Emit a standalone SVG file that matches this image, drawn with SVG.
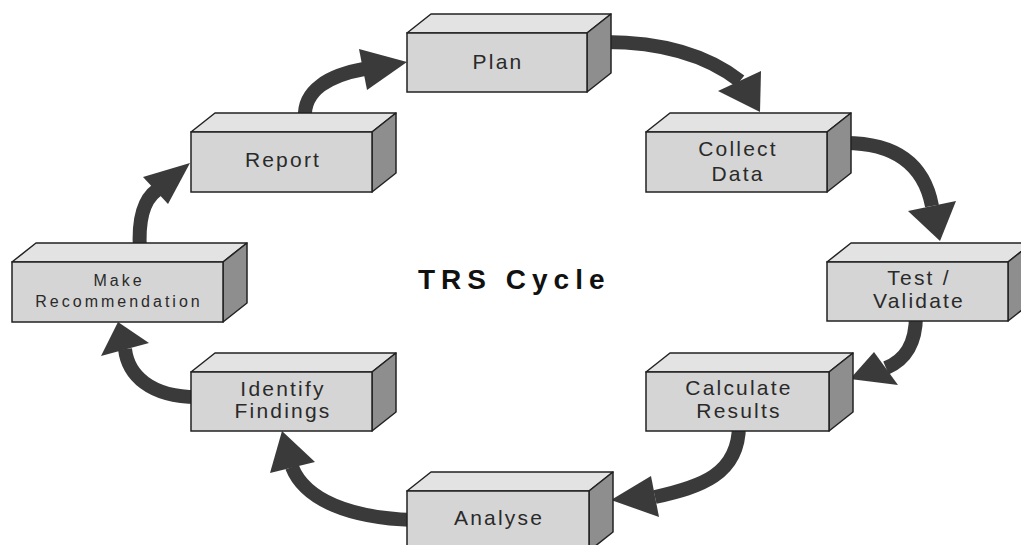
<svg xmlns="http://www.w3.org/2000/svg" width="1021" height="545" viewBox="0 0 1021 545">
<style>
.top{fill:#e3e3e3;stroke:#222;stroke-width:1.5;stroke-linejoin:round}
.side{fill:#8e8e8e;stroke:#222;stroke-width:1.5;stroke-linejoin:round}
.front{fill:#d5d5d5;stroke:#222;stroke-width:1.5}
.lbl{font-family:"Liberation Sans",Arial,sans-serif;font-size:21px;letter-spacing:2.2px;fill:#2a2a2a;text-anchor:middle}
.sm{font-size:16px;letter-spacing:3px}
.shaft{fill:none;stroke:#3a3a3a;stroke-width:14}
.head{fill:#3a3a3a}
.title{font-family:"Liberation Sans",Arial,sans-serif;font-size:28px;font-weight:bold;letter-spacing:6px;fill:#111}
</style>
<rect width="1021" height="545" fill="#fff"/>
<g id="connectors">
<path class="shaft" d="M605,42 Q690,42 740,81"/><polygon class="head" points="718,91 761,71 760,112"/>
<path class="shaft" d="M845,143 Q920,143 932,206"/><polygon class="head" points="908,211 956,201 940,241"/>
<path class="shaft" d="M916,315 C916,345 905,360 886,368"/><polygon class="head" points="874,352 898,385 850,379"/>
<path class="shaft" d="M739,425 C739,475 700,487 655,497"/><polygon class="head" points="651,476 659,517 611,500"/>
<path class="shaft" d="M413,520 C350,518 305,500 292,467"/><polygon class="head" points="270,473 315,462 282,431"/>
<path class="shaft" d="M197,397 C150,397 128,375 125,349"/><polygon class="head" points="101,356 149,343 118,322"/>
<path class="shaft" d="M140,250 C138,220 143,200 157,190"/><polygon class="head" points="143,177 168,204 190,163"/>
<path class="shaft" d="M305,118 C303,90 330,75 364,69"/><polygon class="head" points="359,49 367,90 407,62"/>
</g>
<g id="plan">
<polygon class="top" points="407,33 431,14 611,14 587,33"/>
<polygon class="side" points="587,33 611,14 611,73 587,92"/>
<rect class="front" x="407" y="33" width="180" height="59"/>
<text class="lbl" x="498" y="69">Plan</text>
</g>
<g id="collect">
<polygon class="top" points="646,132 670,113 851,113 827,132"/>
<polygon class="side" points="827,132 851,113 851,173 827,192"/>
<rect class="front" x="646" y="132" width="181" height="60"/>
<text class="lbl" x="738" y="156">Collect</text>
<text class="lbl" x="738" y="181">Data</text>
</g>
<g id="test">
<polygon class="top" points="827,262 851,243 1032,243 1008,262"/>
<polygon class="side" points="1008,262 1032,243 1032,302 1008,321"/>
<rect class="front" x="827" y="262" width="181" height="59"/>
<text class="lbl" x="919" y="285">Test /</text>
<text class="lbl" x="919" y="308">Validate</text>
</g>
<g id="calc">
<polygon class="top" points="646,372 670,353 853,353 829,372"/>
<polygon class="side" points="829,372 853,353 853,412 829,431"/>
<rect class="front" x="646" y="372" width="183" height="59"/>
<text class="lbl" x="739" y="395">Calculate</text>
<text class="lbl" x="739" y="418">Results</text>
</g>
<g id="analyse">
<polygon class="top" points="407,491 431,472 613,472 589,491"/>
<polygon class="side" points="589,491 613,472 613,532 589,551"/>
<rect class="front" x="407" y="491" width="182" height="60"/>
<text class="lbl" x="499" y="525">Analyse</text>
</g>
<g id="identify">
<polygon class="top" points="191,372 215,353 396,353 372,372"/>
<polygon class="side" points="372,372 396,353 396,412 372,431"/>
<rect class="front" x="191" y="372" width="181" height="59"/>
<text class="lbl" x="283" y="396">Identify</text>
<text class="lbl" x="283" y="418">Findings</text>
</g>
<g id="make">
<polygon class="top" points="12,262 36,243 247,243 223,262"/>
<polygon class="side" points="223,262 247,243 247,303 223,322"/>
<rect class="front" x="12" y="262" width="211" height="60"/>
<text class="lbl sm" x="119" y="286">Make</text>
<text class="lbl sm" x="119" y="307">Recommendation</text>
</g>
<g id="report">
<polygon class="top" points="191,132 215,113 396,113 372,132"/>
<polygon class="side" points="372,132 396,113 396,173 372,192"/>
<rect class="front" x="191" y="132" width="181" height="60"/>
<text class="lbl" x="283" y="167">Report</text>
</g>
<g id="title">
<text class="title" x="418" y="289">TRS Cycle</text>
</g>
</svg>
